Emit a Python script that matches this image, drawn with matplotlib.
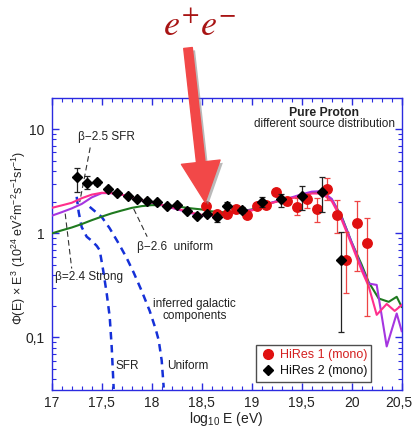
import numpy as np
import matplotlib
matplotlib.use("Agg")
import matplotlib.pyplot as plt
import matplotlib.patheffects as pe
import matplotlib.transforms as mtransforms
from matplotlib.ticker import MultipleLocator, LogLocator, NullFormatter, FixedLocator, FixedFormatter
from matplotlib.lines import Line2D

plt.rcParams['font.family'] = ['Liberation Sans', 'DejaVu Sans']
plt.rcParams['mathtext.fontset'] = 'custom'
plt.rcParams['mathtext.rm'] = 'Liberation Sans'
plt.rcParams['mathtext.it'] = 'Liberation Sans:italic'

# ---------------- data ----------------
# HiRes 2 (mono) - black diamonds
hr2_x = [17.25, 17.35, 17.45, 17.56, 17.65, 17.76, 17.85, 17.95, 18.05, 18.15, 18.25,
         18.35, 18.45, 18.55, 18.65, 18.75, 18.90, 19.10, 19.29, 19.50, 19.70, 19.89]
hr2_y = [3.45, 3.03, 3.10, 2.66, 2.43, 2.30, 2.14, 2.05, 1.99, 1.83, 1.86,
         1.65, 1.47, 1.55, 1.45, 1.85, 1.69, 1.99, 2.12, 2.28, 2.51, 0.56]
hr2_lo = [2.51, 2.65, 2.95, 2.56, 2.35, 2.23, 2.08, 1.99, 1.94, 1.78, 1.80,
          1.60, 1.42, 1.50, 1.29, 1.74, 1.58, 1.80, 1.80, 1.67, 1.61, 0.113]
hr2_hi = [4.25, 3.55, 3.27, 2.77, 2.52, 2.38, 2.21, 2.12, 2.05, 1.89, 1.92,
          1.71, 1.53, 1.61, 1.53, 2.01, 1.81, 2.25, 2.42, 2.85, 3.50, 1.04]

# HiRes 1 (mono) - red circles
hr1_x = [18.54, 18.65, 18.75, 18.84, 18.95, 19.05, 19.14, 19.24, 19.35, 19.45,
         19.55, 19.65, 19.75, 19.85, 19.94, 20.05, 20.15]
hr1_y = [1.82, 1.53, 1.55, 1.73, 1.49, 1.83, 1.87, 2.48, 2.03, 1.81,
         2.13, 1.73, 2.70, 1.49, 0.56, 1.26, 0.81]
hr1_lo = [1.77, 1.48, 1.50, 1.66, 1.43, 1.75, 1.78, 2.34, 1.88, 1.50,
          1.74, 1.29, 2.09, 1.00, 0.265, 0.44, 0.161]
hr1_hi = [1.87, 1.58, 1.60, 1.80, 1.55, 1.91, 1.96, 2.62, 2.18, 2.17,
          2.42, 2.17, 3.38, 2.09, 1.04, 2.06, 1.42]

# model curves
cx = [17.0, 17.1, 17.2, 17.3, 17.4, 17.5, 17.6, 17.7, 17.8, 17.9, 18.0, 18.1, 18.2,
      18.3, 18.4, 18.5, 18.6, 18.7, 18.8, 18.9, 19.0, 19.1, 19.2, 19.3, 19.4, 19.5,
      19.6, 19.7, 19.8, 19.9, 20.0, 20.1]
pink_y = [1.76, 1.86, 1.97, 2.18, 2.36, 2.46, 2.44, 2.36, 2.22, 2.08, 1.99, 1.88, 1.78,
          1.68, 1.58, 1.51, 1.50, 1.52, 1.56, 1.62, 1.66, 1.80, 1.96, 2.08, 2.18, 2.30,
          2.42, 2.42, 2.05, 1.35, 0.78, 0.44]
purple_y = [1.48, 1.60, 1.74, 1.92, 2.22, 2.44, 2.44, 2.36, 2.22, 2.08, 1.98, 1.87, 1.76,
            1.66, 1.56, 1.49, 1.48, 1.51, 1.56, 1.63, 1.68, 1.82, 1.98, 2.11, 2.22, 2.38,
            2.52, 2.55, 2.15, 1.42, 0.82, 0.47]
green_y = [1.00, 1.07, 1.14, 1.23, 1.34, 1.45, 1.56, 1.66, 1.76, 1.83, 1.87, 1.87, 1.84,
           1.79, 1.74, 1.70, 1.63, 1.60, 1.60, 1.64, 1.70, 1.82, 1.97, 2.10, 2.20, 2.32,
           2.45, 2.48, 2.12, 1.45, 0.82, 0.50]
pink_tx = [20.17, 20.25, 20.35, 20.43, 20.5]
pink_ty = [0.31, 0.165, 0.21, 0.18, 0.205]
purple_tx = [20.17, 20.25, 20.35, 20.45, 20.5]
purple_ty = [0.33, 0.32, 0.082, 0.17, 0.115]
green_tx = [20.17, 20.27, 20.37, 20.45, 20.5]
green_ty = [0.34, 0.237, 0.22, 0.246, 0.197]

# inferred galactic components (blue dashed)
sfr_x = [17.25, 17.27, 17.30, 17.35, 17.40, 17.45, 17.48, 17.515, 17.55, 17.58, 17.60, 17.62]
sfr_y = [2.25, 1.60, 1.15, 0.93, 0.85, 0.76, 0.69, 0.44, 0.265, 0.158, 0.081, 0.032]
uni_x = [17.38, 17.50, 17.58, 17.67, 17.75, 17.82, 17.90, 17.98, 18.04, 18.07, 18.10, 18.12]
uni_y = [1.80, 1.44, 1.12, 0.80, 0.58, 0.42, 0.28, 0.18, 0.12, 0.094, 0.06, 0.033]

xtick_vals = [17, 17.5, 18, 18.5, 19, 19.5, 20, 20.5]
xtick_labels = ["17", "17,5", "18", "18,5", "19", "19,5", "20", "20,5"]
ytick_vals = [0.1, 1, 10]
ytick_labels = ["0,1", "1", "10"]

# ---------------- figure ----------------
W, H = 413, 430
fig = plt.figure(figsize=(W / 100, H / 100), dpi=100)
ax_l, ax_r, ax_t, ax_b = 51.7, 401.7, 98.3, 389.5
ax = fig.add_axes([ax_l / W, 1 - ax_b / H, (ax_r - ax_l) / W, (ax_b - ax_t) / H])

blue = "#2b2be0"
ax.set_yscale('log')
ax.set_xlim(17, 20.5)
ax.set_ylim(10 ** -1.5, 19.9)

for s in ax.spines.values():
    s.set_color(blue)
    s.set_linewidth(1.0)

ax.xaxis.set_major_locator(FixedLocator(xtick_vals))
ax.xaxis.set_major_formatter(FixedFormatter(xtick_labels))
ax.xaxis.set_minor_locator(MultipleLocator(0.1))
ax.yaxis.set_major_locator(FixedLocator(ytick_vals))
ax.yaxis.set_major_formatter(FixedFormatter(ytick_labels))
ax.yaxis.set_minor_locator(LogLocator(base=10, subs=np.arange(2, 10)))
ax.yaxis.set_minor_formatter(NullFormatter())
ax.tick_params(which='both', direction='in', top=True, right=True, color=blue,
               labelsize=10, labelcolor='#222222')
ax.tick_params(which='major', length=5, width=1, pad=5)
ax.tick_params(which='minor', length=3, width=0.8)

# model curves
ax.plot(cx + green_tx, green_y + green_ty, color="#1f7a1f", lw=1.5, zorder=3)
ax.plot(cx + purple_tx, purple_y + purple_ty, color="#a535e0", lw=1.5, zorder=3)
ax.plot(cx + pink_tx, pink_y + pink_ty, color="#ff2f8c", lw=1.5, zorder=3)

# blue dashed galactic components
ax.plot(sfr_x, sfr_y, color="#1530d8", lw=1.8, dashes=(3, 2.2), zorder=2)
ax.plot(uni_x, uni_y, color="#1530d8", lw=1.8, dashes=(3, 2.2), zorder=2)

# black dashed annotation leaders
ld = dict(color="#333333", lw=0.8, dashes=(5, 3), zorder=2)
ax.plot([17.385, 17.28], [6.7, 2.0], **ld)
ax.plot([17.135, 17.2], [1.55, 0.46], **ld)
ax.plot([17.82, 17.955], [1.72, 0.93], **ld)

# data
hr1_y_a = np.array(hr1_y)
hr2_y_a = np.array(hr2_y)
ax.errorbar(hr2_x, hr2_y, yerr=[hr2_y_a - np.array(hr2_lo), np.array(hr2_hi) - hr2_y_a],
            fmt='D', color='black', ms=5, ecolor='#222222', elinewidth=0.9,
            capsize=2.5, capthick=0.9, zorder=5)
ax.errorbar(hr1_x, hr1_y, yerr=[hr1_y_a - np.array(hr1_lo), np.array(hr1_hi) - hr1_y_a],
            fmt='o', color='#e01010', ms=6.8, ecolor='#ee4444', elinewidth=0.9,
            capsize=2.5, capthick=0.9, zorder=4)

# texts
tc = '#222222'
ax.text(17.263, 8.5, "β−2.5 SFR", fontsize=8.5, color=tc, va='center', ha='left')
ax.text(17.853, 0.738, "β−2.6  uniform", fontsize=8.5, color=tc, va='center', ha='left')
ax.text(17.03, 0.382, "β=2.4 Strong", fontsize=8.5, color=tc, va='center', ha='left')
ax.text(18.43, 0.185, "inferred galactic\ncomponents", fontsize=8.5, color=tc,
        va='center', ha='center', linespacing=1.0)
ax.text(17.633, 0.0533, "SFR", fontsize=8.5, color=tc, va='center', ha='left')
ax.text(18.15, 0.0533, "Uniform", fontsize=8.5, color=tc, va='center', ha='left')
ax.text(0.778, 0.951, "Pure Proton", transform=ax.transAxes, fontsize=8.8,
        fontweight='bold', color=tc, ha='center', va='center')
ax.text(0.778, 0.911, "different source distribution", transform=ax.transAxes,
        fontsize=8.5, color=tc, ha='center', va='center')

# legend
handles = [Line2D([], [], marker='o', color='#e01010', ls='none', ms=7),
           Line2D([], [], marker='D', color='black', ls='none', ms=5)]
leg = ax.legend(handles, ["HiRes 1 (mono)", "HiRes 2 (mono)"], loc='lower left',
                bbox_to_anchor=(0.585, 0.027), fontsize=9, frameon=True, fancybox=False,
                handletextpad=0.3, borderpad=0.35, labelspacing=0.35, handlelength=1.2,
                borderaxespad=0)
leg.get_frame().set_edgecolor('#222222')
leg.get_frame().set_linewidth(1.0)
leg.get_texts()[0].set_color('#d42020')
leg.get_texts()[1].set_color('#111111')

# keep the last x tick label inside the canvas (nudge left a few pixels)
fig.canvas.draw()
last_lbl = ax.get_xticklabels()[-1]
last_lbl.set_transform(last_lbl.get_transform() +
                       mtransforms.ScaledTranslation(-3 / 100, 0, fig.dpi_scale_trans))

# axis labels
fig.text(226.5 / W, 1 - 419 / H, r"log$_{10}$ E (eV)", fontsize=10, color=tc,
         ha='center', va='center')
fig.text(19 / W, 1 - 238 / H,
         r"$\Phi$(E) $\times$ E$^3$ (10$^{24}$ eV$^2$m$^{-2}$s$^{-1}$sr$^{-1}$)",
         fontsize=9, color=tc, rotation=90, ha='center', va='center')

# e+e- annotation arrow
fig.text(200 / W, 1 - 26 / H, r"$e^{+}e^{-}$", fontsize=26, color="#a81414",
         ha='center', va='center', math_fontfamily='stix')
arr = ax.annotate("", xy=(18.54, 1.82), xycoords='data',
                  xytext=(188, H - 48), textcoords='figure pixels',
                  arrowprops=dict(arrowstyle="simple,head_length=1.45,head_width=1.4,tail_width=0.31",
                                  mutation_scale=20, color="#f24848", shrinkA=0, shrinkB=3,
                                  path_effects=[pe.SimplePatchShadow(offset=(2, -2),
                                                                     shadow_rgbFace='0.55', alpha=0.6),
                                                pe.Normal()]),
                  annotation_clip=False, zorder=10)

fig.savefig("out.png", dpi=100)
